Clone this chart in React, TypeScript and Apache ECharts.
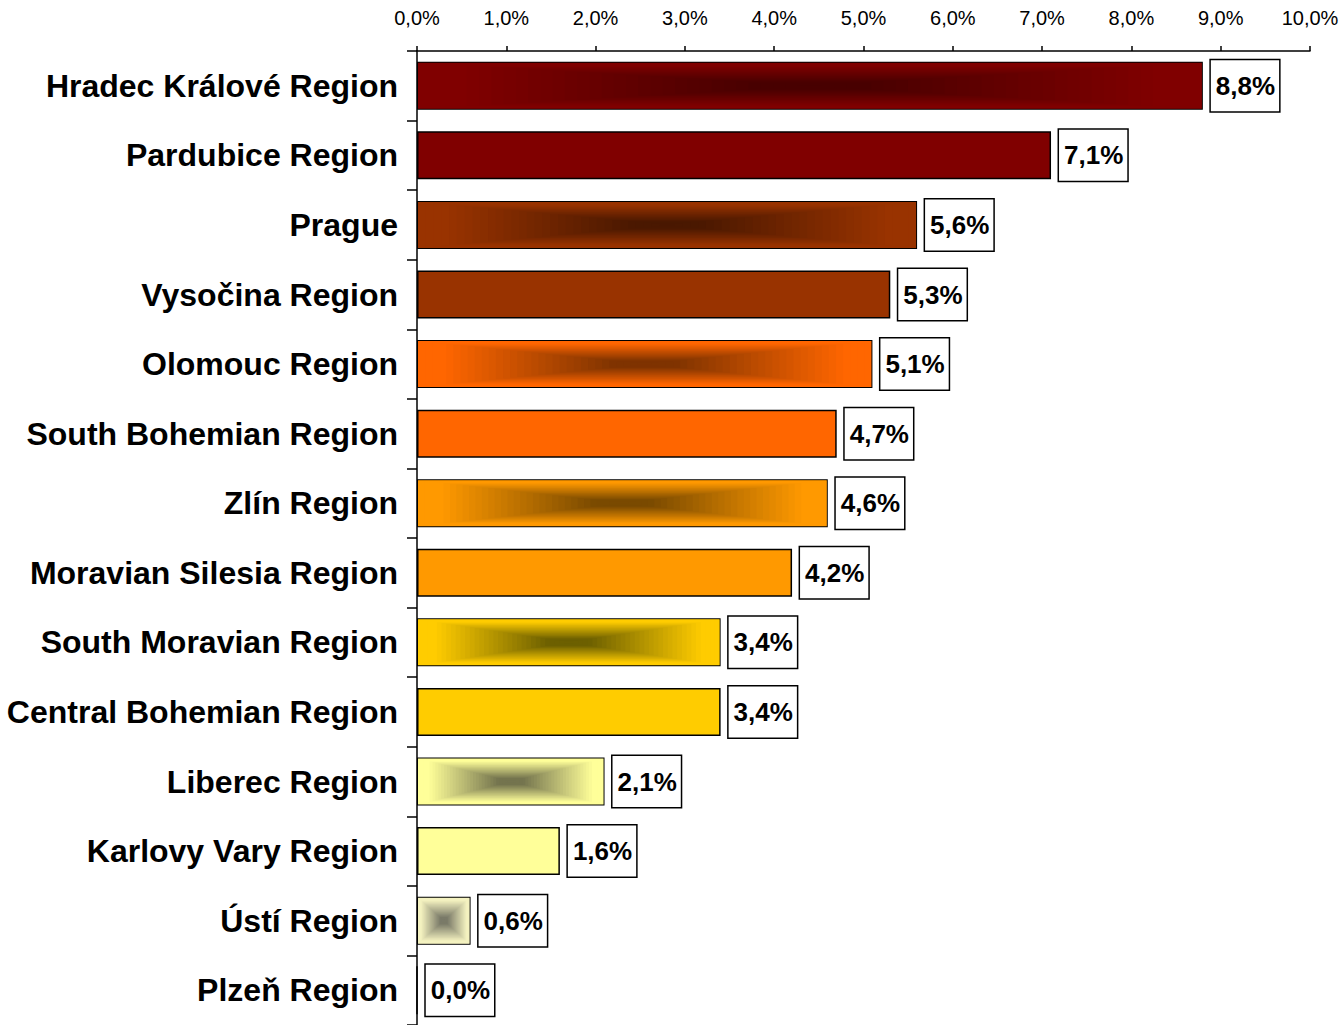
import React, { useEffect, useRef } from "react";
import * as echarts from "echarts";

const categories = [
  "Hradec Králové Region",
  "Pardubice Region",
  "Prague",
  "Vysočina Region",
  "Olomouc Region",
  "South Bohemian Region",
  "Zlín Region",
  "Moravian Silesia Region",
  "South Moravian Region",
  "Central Bohemian Region",
  "Liberec Region",
  "Karlovy Vary Region",
  "Ústí Region",
  "Plzeň Region",
];
const values = [8.8, 7.1, 5.6, 5.3, 5.1, 4.7, 4.6, 4.2, 3.4, 3.4, 2.1, 1.6, 0.6, 0.0];

const baseColors = [
  "#800000", "#800000", "#993300", "#993300", "#FF6600", "#FF6600", "#FF9900",
  "#FF9900", "#FFCC00", "#FFCC00", "#FFFF99", "#FFFF99", "#F4F2C0", "#FFFF99",
];
const centerColors: (string | null)[] = [
  "#480000", null, "#4a1800", null, "#7f3300", null, "#7a4a00",
  null, "#6d6000", null, "#74744e", null, "#7a7a68", null,
];

const FONT = "'Liberation Sans', Arial, sans-serif";
const BAR_W = 48;

function hexToRgb(h: string) {
  const n = parseInt(h.slice(1), 16);
  return [(n >> 16) & 255, (n >> 8) & 255, n & 255];
}
function mix(a: string, b: string, t: number) {
  const A = hexToRgb(a), B = hexToRgb(b);
  const c = A.map((v, i) => Math.round(v + (B[i] - v) * t));
  return `rgb(${c[0]},${c[1]},${c[2]})`;
}
const fmt = (v: number) => v.toFixed(1).replace(".", ",") + "%";

export default function App() {
  const ref = useRef<HTMLDivElement>(null);
  useEffect(() => {
    if (!ref.current) return;
    const chart = echarts.init(ref.current, undefined, { renderer: "svg" });
    const option: any = {
      animation: false,
      backgroundColor: "#ffffff",
      grid: { left: 417, right: 33, top: 51, height: 975, containLabel: false },
      xAxis: {
        type: "value",
        position: "top",
        min: 0,
        max: 10,
        interval: 1,
        axisLine: { show: true, lineStyle: { color: "#000", width: 1.5 } },
        axisTick: { show: true, length: 5, lineStyle: { color: "#000", width: 1.5 } },
        splitLine: { show: false },
        axisLabel: {
          formatter: (v: number) => fmt(v),
          fontFamily: FONT,
          fontSize: 20,
          color: "#000",
          margin: 23,
        },
      },
      yAxis: {
        type: "category",
        data: categories,
        inverse: true,
        axisLine: { show: true, lineStyle: { color: "#000", width: 1.5 } },
        axisTick: { show: true, length: 10, alignWithLabel: false, lineStyle: { color: "#000", width: 1.5 } },
        axisLabel: {
          fontFamily: FONT,
          fontSize: 32,
          fontWeight: "bold",
          color: "#000",
          margin: 19,
        },
      },
      series: [
        {
          type: "bar",
          barWidth: BAR_W,
          data: values.map((v, i) => ({
            value: v,
            itemStyle: { color: baseColors[i], borderColor: "#000", borderWidth: 1.5 },
          })),
          label: {
            show: true,
            position: "right",
            distance: 8,
            formatter: (p: any) => fmt(p.value),
            fontFamily: FONT,
            fontSize: 26,
            fontWeight: "bold",
            color: "#000",
            backgroundColor: "#fff",
            borderColor: "#000",
            borderWidth: 1.5,
            padding: [13, 4, 12, 5],
          },
        },
        {
          type: "custom",
          silent: true,
          z: 3,
          encode: { x: 0, y: 1 },
          data: values.map((v, i) => [v, i]),
          renderItem: (params: any, api: any) => {
            const v = api.value(0);
            const idx = api.value(1);
            const cc = centerColors[idx];
            if (!cc || v <= 0) return { type: "group", children: [] };
            const p0 = api.coord([0, idx]);
            const p1 = api.coord([v, idx]);
            const x0 = p0[0] + 1;
            const x1 = p1[0] - 1;
            const xc = (x0 + x1) / 2;
            const yc = p0[1];
            const hw = (x1 - x0) / 2;
            const hh = BAR_W / 2 - 1;
            const N = 32;
            const children: any[] = [];
            for (let k = 0; k < N; k++) {
              const s = 1 - k / N;
              const g = Math.min(1, Math.max(0, (0.9 - s) / 0.75));
              children.push({
                type: "rect",
                shape: { x: xc - hw * s, y: yc - hh * s, width: 2 * hw * s, height: 2 * hh * s },
                style: { fill: mix(baseColors[idx], cc, g) },
              });
            }
            return { type: "group", children };
          },
        },
      ],
    };
    chart.setOption(option);
    return () => chart.dispose();
  }, []);
  return (
    <div
      ref={ref}
      style={{ position: "absolute", left: 0, top: 0, width: 1343, height: 1025 }}
    />
  );
}
